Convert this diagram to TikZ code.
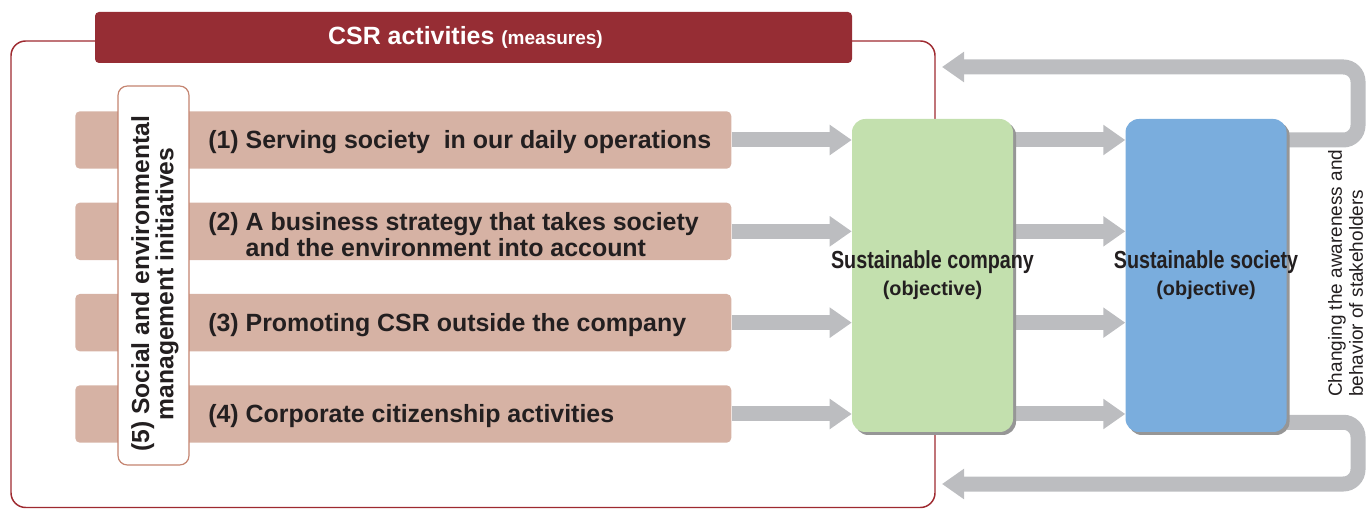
\documentclass[tikz,border=0pt]{standalone}
\usepackage{fontspec}
\setmainfont{Liberation Sans}
\newfontfamily\condfont{Liberation Sans Bold}[FakeStretch=0.8]
\usetikzlibrary{arrows.meta,positioning,backgrounds,shadows}
\definecolor{csrTitle}{RGB}{150,45,52}
\definecolor{csrFrame}{RGB}{158,42,48}
\definecolor{csrItem}{RGB}{214,178,164}
\definecolor{csrItemLine}{RGB}{196,132,112}
\definecolor{csrCompany}{RGB}{195,224,174}
\definecolor{csrSociety}{RGB}{122,173,221}
\definecolor{csrArrow}{RGB}{188,189,192}
\definecolor{csrShadow}{RGB}{150,150,150}
\definecolor{csrText}{RGB}{35,31,32}
\tikzset{
  titlebar/.style={rectangle, fill=csrTitle, rounded corners=3pt, minimum width=567.75pt,
    minimum height=38.25pt, text=white, font=\bfseries\fontsize{18.7}{20}\selectfont, inner sep=0pt},
  itembar/.style={rectangle, fill=csrItem, rounded corners=3.5pt, minimum width=492pt,
    minimum height=43.1pt, inner sep=0pt},
  itemtext/.style={anchor=west, align=left, text=csrText, inner sep=0pt,
    font=\bfseries\fontsize{18.7}{19.5}\selectfont},
  mgmtbox/.style={rectangle, draw=csrItemLine, line width=0.9pt, fill=white, rounded corners=7pt,
    minimum width=53.25pt, minimum height=284.25pt},
  mgmttext/.style={rotate=90, align=center, text=csrText, inner sep=0pt,
    font=\bfseries\fontsize{18.5}{16.5}\selectfont},
  goalbox/.style={rectangle, rounded corners=10pt, minimum width=120.75pt, minimum height=234.75pt,
    general shadow={fill=csrShadow, shadow xshift=2.25pt, shadow yshift=-2.25pt}},
  goaltext/.style={align=center, text=csrText, inner sep=0pt,
    font=\bfseries\fontsize{18.5}{20.25}\selectfont},
  sidetext/.style={rotate=90, anchor=west, align=left, text=csrText, inner sep=0pt,
    font=\fontsize{14.25}{15.75}\selectfont},
  flowarrow/.style={-{Triangle[length=16.5pt,width=21.75pt]}, draw=csrArrow, line width=11.25pt},
  framebox/.style={draw=csrFrame, line width=1.1pt, rounded corners=11pt},
}
\begin{document}
\begin{tikzpicture}[x=0.75pt, y=-0.75pt, node distance=25pt]
  \useasboundingbox (0,0) rectangle (1371,509);

  % frame round the measures
  \draw[framebox] (11,41) rectangle (935,507.5);
  \node[titlebar] (title) at (473.5,37.5)
    {\raisebox{-1.5pt}{CSR activities {\fontsize{14.25}{16}\selectfont(measures)}}\hspace*{12pt}};

  % the four measures
  \node[itembar, anchor=west] (bar1) at (75,140) {};
  \node[itembar, below=of bar1] (bar2) {};
  \node[itembar, below=of bar2] (bar3) {};
  \node[itembar, below=of bar3] (bar4) {};

  \node[itemtext] (item1) at ([xshift=99.75pt, yshift=-1.5pt]bar1.west)
    {(1) Serving society~ in our daily operations};
  \node[itemtext] (item2) at ([xshift=99.75pt, yshift=-2.5pt]bar2.west)
    {(2) A business strategy that takes society\\\hphantom{(2)\ }and the environment into account};
  \node[itemtext] (item3) at ([xshift=99.75pt, yshift=-1.5pt]bar3.west)
    {(3) Promoting CSR outside the company};
  \node[itemtext] (item4) at ([xshift=99.75pt, yshift=-1.5pt]bar4.west)
    {(4) Corporate citizenship activities};

  \node[mgmtbox] (mgmt) at (153.5,275.5) {};
  \node[mgmttext] (mgmtlabel) at (155,284)
    {(5) Social and environmental\\management initiatives};

  % objectives
  \node[goalbox, fill=csrCompany] (company) at (932.5,275.5) {};
  \node[goalbox, fill=csrSociety, right=84pt of company] (society) {};
  \node[goaltext] (companylabel) at (company.center)
    {{\condfont Sustainable company}\\{\fontsize{14.9}{16}\selectfont (objective)}};
  \node[goaltext] (societylabel) at (society.center)
    {{\condfont Sustainable society}\\{\fontsize{14.9}{16}\selectfont (objective)}};

  \node[sidetext] (stakeholders) at (1345.5,397)
    {Changing the awareness and\\behavior of stakeholders};

  \coordinate (loopx) at (1358,0);
  \coordinate (backtop) at (942,67);
  \coordinate (backbot) at (942,484);
  \coordinate (backout) at ([yshift=7.5pt]society.south east);

  \begin{scope}[on background layer]
    \foreach \i in {1,...,4} {
      \draw[flowarrow] (bar\i.east) -- (bar\i.east -| company.west);
      \draw[flowarrow] (company.east |- bar\i.east) -- (society.west |- bar\i.east);
    }
    \draw[flowarrow, rounded corners=11pt] (society.east |- bar1.east) -- (loopx |- bar1.east)
      -- (loopx |- backtop) -- (backtop);
    \draw[flowarrow, rounded corners=11pt] (backout) -- (loopx |- backout)
      -- (loopx |- backbot) -- (backbot);
  \end{scope}
\end{tikzpicture}
\end{document}
